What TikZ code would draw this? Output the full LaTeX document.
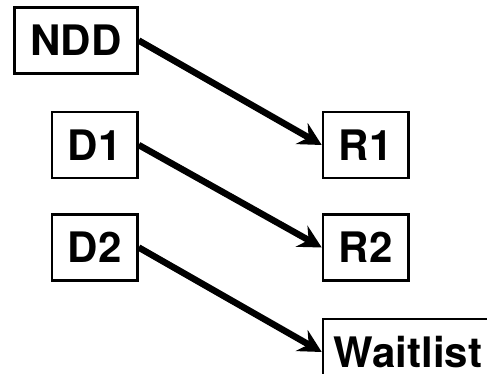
\documentclass[tikz,border=0pt]{standalone}
\usepackage{fontspec}
\setmainfont{TeX Gyre Heros}
\usepackage{tikz}
\usetikzlibrary{positioning,arrows.meta}
\tikzset{
  slot/.style={draw,line width=2.5pt,minimum width=82pt,minimum height=66pt,
            inner xsep=16pt,align=center,font=\fontsize{42}{44}\selectfont\bfseries,fill=white},
  match/.style={-{Stealth[length=23pt,width=24pt,inset=8pt]},line width=6.5pt},
}
\begin{document}
\begin{tikzpicture}
  \useasboundingbox (0,0) rectangle (487pt,-374pt);
  % donors on the left
  \node[slot] (ndd) at (76pt,-40.5pt) {NDD};
  \node[slot,below=36pt of ndd.south east,anchor=north east] (d1) {D1};
  \node[slot,below=34pt of d1] (d2) {D2};
  % recipients on the right
  \node[slot,right=183pt of d1] (r1) {R1};
  \node[slot,right=183pt of d2] (r2) {R2};
  \node[slot,inner xsep=11pt,text width=160pt,align=left,
        below=36pt of r2.south west,anchor=north west] (wait) {Waitlist};
  % chain
  \draw[match] (ndd.east) -- (r1.west);
  \draw[match] (d1.east) -- (r2.west);
  \draw[match] (d2.east) -- (wait.west);
\end{tikzpicture}
\end{document}
